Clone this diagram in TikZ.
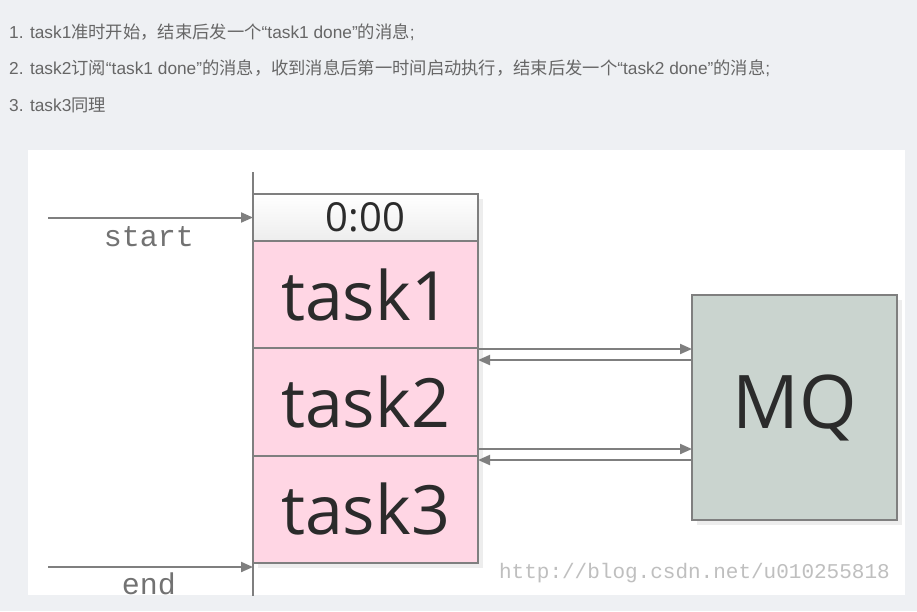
\documentclass[tikz,border=0pt]{standalone}
\usepackage{fontspec}
\setmainfont{Open Sans}
\newfontfamily\cjkfont{Noto Sans CJK SC}
\newfontfamily\headfont{Liberation Sans}
\newfontfamily\typefont{Liberation Mono}
\newcommand{\zh}[1]{{\cjkfont #1}}
\usetikzlibrary{arrows.meta, positioning, shadows}

\definecolor{bgcol}{HTML}{EEF0F3}
\definecolor{pinkfill}{HTML}{FFD6E4}
\definecolor{mqfill}{HTML}{CAD4CF}
\definecolor{linecol}{HTML}{7F7F7F}
\definecolor{txtcol}{HTML}{2B2B2B}
\definecolor{headcol}{HTML}{666666}

\begin{document}
\begin{tikzpicture}[x=1pt, y=-1pt,
  box/.style = {draw=linecol, line width=1.8pt, inner sep=0pt, outer sep=0pt,
                minimum width=225pt, text=txtcol,
                drop shadow={shadow xshift=5pt, shadow yshift=-5pt, fill=black!7, opacity=1}},
  timebox/.style = {box, top color=white, bottom color=gray!14, minimum height=47pt,
                    font=\fontsize{40}{40}\selectfont},
  taskbox/.style = {box, fill=pinkfill, minimum height=107.3pt,
                    font=\fontsize{68}{68}\selectfont},
  mqbox/.style = {box, fill=mqfill, minimum width=205pt, minimum height=225pt,
                  font=\fontsize{74}{74}\selectfont},
  axis/.style = {draw=linecol, line width=2pt},
  arr/.style = {axis, -{Triangle[length=12pt, width=10pt]}},
  lbl/.style = {text=linecol!90!black, font=\typefont\fontsize{30}{30}\selectfont,
                anchor=base, inner sep=0pt},
  head/.style = {text=headcol, font=\headfont\fontsize{17.3}{17.3}\selectfont,
                 anchor=base west, inner sep=0pt},
  watermark/.style = {text=black!25, font=\typefont\fontsize{21}{21}\selectfont,
                 anchor=base east, inner sep=0pt}
]

%%% Hintergrund und BoundingBox
\fill[bgcol] (0,0) rectangle (917,611);
\useasboundingbox (0,0) rectangle (917,611);

%%% Textzeilen
\node[head] (line1) at (9,38) {1. task1\zh{准时开始，结束后发一个}“task1 done”\zh{的消息};};
\node[head] (line2) at (9,74) {2. task2\zh{订阅}“task1 done”\zh{的消息，收到消息后第一时间启动执行，结束后发一个}“task2 done”\zh{的消息};};
\node[head] (line3) at (9,111) {3. task3\zh{同理}};

\begin{scope}
\clip (28,150) rectangle (905,595);
\fill[white] (28,150) rectangle (905,595);

%%% Zeitachse
\coordinate (axtop) at (253,172);
\coordinate (axbot) at (253,600);
\draw[axis] (axtop) -- (axbot);

%%% Tasks
\node[timebox] (time) at (365.5,217.5) {0:00};
\node[taskbox, below=0pt of time] (t1) {task1};
\node[taskbox, below=0pt of t1] (t2) {task2};
\node[taskbox, below=0pt of t2] (t3) {task3};

%%% Message Queue
\node[mqbox] (mq) at (794.5,407.5) {MQ};

%%% Start und Ende
\coordinate (startL) at (48,217.5);
\draw[arr] (startL) -- (time.west);
\node[lbl] (startlbl) at (149,246) {start};

\coordinate (endL) at (48,567);
\coordinate (endR) at (253,567);
\draw[arr] (endL) -- (endR);
\node[lbl] (endlbl) at (149,594) {end};

%%% Nachrichten
\coordinate (s1) at (478,349);
\coordinate (r1) at (478,360);
\coordinate (s2) at (478,449);
\coordinate (r2) at (478,460);
\draw[arr] (s1) -- (s1 -| mq.west);
\draw[arr] (r1 -| mq.west) -- (r1);
\draw[arr] (s2) -- (s2 -| mq.west);
\draw[arr] (r2 -| mq.west) -- (r2);

%%% Wasserzeichen
\node[watermark] (wm) at (890,578) {http://blog.csdn.net/u010255818};
\end{scope}
\end{tikzpicture}
\end{document}
